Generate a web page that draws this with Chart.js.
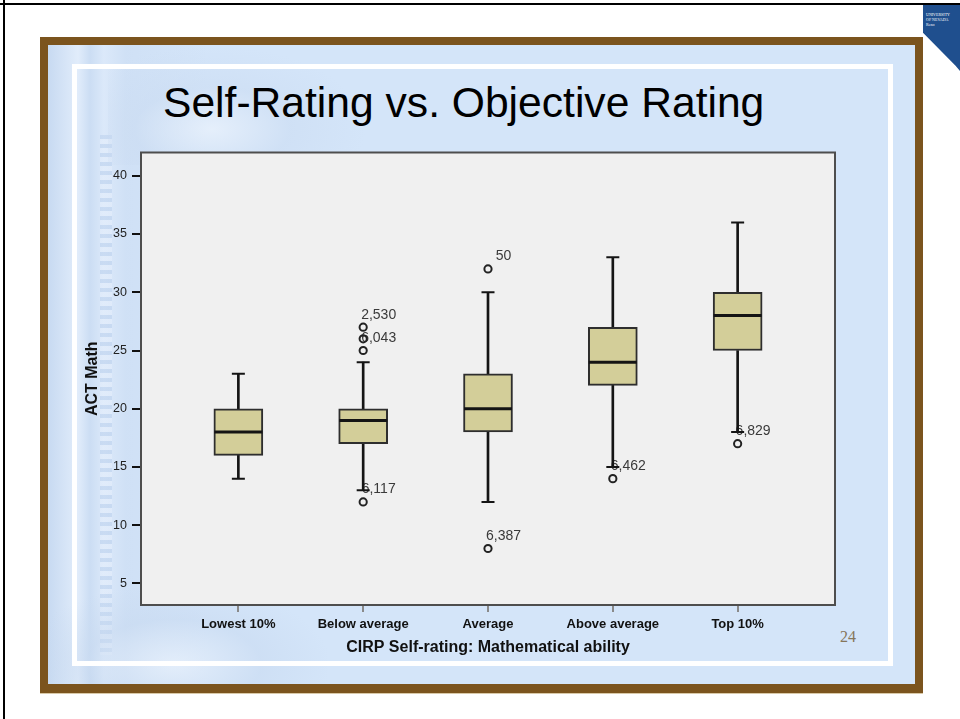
<!DOCTYPE html>
<html>
<head>
<meta charset="utf-8">
<title>Self-Rating vs. Objective Rating</title>
<script src="https://cdn.jsdelivr.net/npm/chart.js@4/dist/chart.umd.min.js"></script>
<style>
  html, body { margin: 0; padding: 0; }
  body { width: 960px; height: 719px; position: relative; overflow: hidden; background: #fff; font-family: "Liberation Sans", Arial, sans-serif; }
  .abs { position: absolute; }
  #edgeTop { left: 0; top: 3px; width: 960px; height: 2px; background: #000; }
  #edgeLeft { left: 3px; top: 0; width: 2px; height: 719px; background: #000; }
  #frame { left: 40px; top: 37px; width: 883px; height: 656px; background: #7b541e; box-shadow: 0 1px 0 #d9c9a8; }
  #panel { left: 48px; top: 45px; width: 867px; height: 639px; background: #d4e5f9; overflow: hidden; }
  #panel .deco { position: absolute; }
  #cols { left: 0; top: 0; width: 160px; height: 639px;
    background:
      linear-gradient(90deg, rgba(194,213,238,0.7) 0px, rgba(228,238,251,0.8) 30px, rgba(200,218,241,0.7) 42px, rgba(224,235,250,0.6) 56px, rgba(203,220,242,0.5) 78px, rgba(212,229,249,0) 160px); }
  #flute { left: 52px; top: 90px; width: 12px; height: 520px; opacity: 0.45;
    background: repeating-linear-gradient(180deg, rgba(180,203,234,1) 0 4px, rgba(232,240,252,1) 4px 9px); }
  #capital { left: 60px; top: 0; width: 260px; height: 120px;
    background: radial-gradient(ellipse at 40% 70%, rgba(236,243,252,0.7) 0, rgba(202,219,241,0.45) 35%, rgba(212,229,249,0) 70%); }
  #base { left: 0; top: 540px; width: 280px; height: 99px;
    background: radial-gradient(ellipse at 45% 80%, rgba(234,242,252,0.7) 0, rgba(198,216,239,0.45) 40%, rgba(212,229,249,0) 72%); }
  #inset { left: 72px; top: 64px; width: 821px; height: 602px; box-sizing: border-box; border: 5px solid #fff; }
  #title { left: 163px; top: 81px; font-size: 42.6px; line-height: 1; color: #000; white-space: nowrap; }
  #pageNo { left: 840px; top: 629px; font-family: "Liberation Serif", "Times New Roman", serif; font-size: 16px; line-height: 1; color: #86765a; }
  #chartBox { left: 80px; top: 140px; width: 780px; height: 530px; }
  #logo { left: 923px; top: 5px; width: 37px; height: 66px; background: #1f4f8e;
    clip-path: polygon(0 0, 100% 0, 100% 100%, 88% 92%, 0 42%); }
  #logoText { left: 926px; top: 12px; font-family: "Liberation Serif", serif; font-size: 4px; line-height: 5px; color: #fff; white-space: nowrap; }
</style>
</head>
<body>
<div id="frame" class="abs"></div>
<div id="panel" class="abs">
  <div id="cols" class="deco"></div>
  <div id="flute" class="deco"></div>
  <div id="capital" class="deco"></div>
  <div id="base" class="deco"></div>
</div>
<div id="inset" class="abs"></div>
<div id="edgeTop" class="abs"></div>
<div id="edgeLeft" class="abs"></div>
<div id="logo" class="abs"></div>
<div id="logoText" class="abs">UNIVERSITY<br>OF NEVADA<br>Reno</div>
<div id="title" class="abs">Self-Rating vs. Objective Rating</div>
<div id="pageNo" class="abs">24</div>
<div id="chartBox" class="abs"><canvas id="chart" width="780" height="530"></canvas></div>

<script>
// ACT Math score distribution by CIRP self-rating group
const categories = ['Lowest 10%', 'Below average', 'Average', 'Above average', 'Top 10%'];
const whiskerLow  = [14, 13, 12, 15, 18];
const quartile1   = [16, 17, 18, 22, 25];
const medians     = [18, 19, 20, 24, 28];
const quartile3   = [20, 20, 23, 27, 30];
const whiskerHigh = [23, 24, 30, 33, 36];

// Outliers: group index, score, case number
const outlierGroup = [1, 1, 1, 1, 2, 2, 3, 4];
const outlierScore = [27, 26, 25, 12, 32, 8, 14, 17];
const outlierCase  = ['2,530', '', '6,043', '6,117', '50', '6,387', '6,462', '6,829'];

const yTicks = [5, 10, 15, 20, 25, 30, 35, 40];

const FONT = "'Liberation Sans', Arial, sans-serif";
const INK = '#141414';

const plotFrame = {
  id: 'plotFrame',
  beforeDraw(chart) {
    const { ctx, chartArea: a } = chart;
    ctx.save();
    ctx.fillStyle = '#f0f0f0';
    ctx.fillRect(a.left, a.top, a.right - a.left, a.bottom - a.top);
    ctx.restore();
  },
  afterDraw(chart) {
    const { ctx, chartArea: a } = chart;
    ctx.save();
    ctx.strokeStyle = '#4e4e4e';
    ctx.lineWidth = 2;
    ctx.strokeRect(a.left, a.top, a.right - a.left, a.bottom - a.top);
    ctx.restore();
  }
};

// Case-number labels above and to the right of each outlier marker
const caseLabels = {
  id: 'caseLabels',
  beforeDatasetsDraw(chart) {
    const idx = chart.data.datasets.findIndex(d => d.label === 'outliers');
    const meta = chart.getDatasetMeta(idx);
    const { ctx } = chart;
    ctx.save();
    ctx.font = '14px ' + FONT;
    ctx.fillStyle = '#3a3a3a';
    ctx.textAlign = 'center';
    ctx.textBaseline = 'middle';
    meta.data.forEach((pt, i) => {
      if (outlierCase[i]) ctx.fillText(outlierCase[i], pt.x + 15.5, pt.y - 12.5);
    });
    ctx.restore();
  }
};

const pts = (vals) => vals.map((v, i) => ({ x: i, y: v }));
const spans = (lo, hi) => lo.map((v, i) => ({ x: i, y: [v, hi[i]] }));

new Chart(document.getElementById('chart'), {
  type: 'scatter',
  data: {
    datasets: [
      {
        label: 'outliers',
        data: outlierScore.map((v, i) => ({ x: outlierGroup[i], y: v })),
        pointStyle: 'circle', pointRadius: 3.6, borderWidth: 2,
        borderColor: '#222', backgroundColor: 'rgba(0,0,0,0)'
      },
      {
        label: 'median',
        data: pts(medians),
        pointStyle: 'line', pointRadius: 24, borderWidth: 3, borderColor: INK
      },
      {
        label: 'upper cap',
        data: pts(whiskerHigh),
        pointStyle: 'line', pointRadius: 6.5, borderWidth: 2, borderColor: INK
      },
      {
        label: 'lower cap',
        data: pts(whiskerLow),
        pointStyle: 'line', pointRadius: 6.5, borderWidth: 2, borderColor: INK
      },
      {
        type: 'bar', label: 'box',
        data: spans(quartile1, quartile3),
        grouped: false, barThickness: 49, borderSkipped: false,
        backgroundColor: '#d3ce99', borderColor: '#2e2e2e', borderWidth: 2
      },
      {
        type: 'bar', label: 'upper whisker',
        data: spans(quartile3, whiskerHigh),
        grouped: false, barThickness: 2, borderWidth: 0, backgroundColor: INK
      },
      {
        type: 'bar', label: 'lower whisker',
        data: spans(whiskerLow, quartile1),
        grouped: false, barThickness: 2, borderWidth: 0, backgroundColor: INK
      }
    ]
  },
  options: {
    responsive: false,
    animation: false,
    events: [],
    devicePixelRatio: 1,
    layout: { autoPadding: false, padding: { left: 0, top: 9, right: 25, bottom: 0 } },
    plugins: { legend: { display: false }, tooltip: { enabled: false } },
    scales: {
      x: {
        type: 'linear', min: -0.78, max: 4.78, offset: false,
        afterBuildTicks: s => { s.ticks = categories.map((c, i) => ({ value: i })); },
        afterFit: s => { s.height = 65; },
        border: { display: false },
        grid: { display: true, offset: false, drawOnChartArea: false, drawTicks: true, tickLength: 7, color: '#8a8a8a', lineWidth: 2 },
        ticks: {
          autoSkip: false, maxRotation: 0, padding: 4.5,
          color: '#111', font: { family: FONT, size: 13, weight: 'bold' },
          callback: v => categories[v]
        },
        title: {
          display: true, text: 'CIRP Self-rating: Mathematical ability',
          color: '#111', font: { family: FONT, size: 16, weight: 'bold' },
          padding: { top: 0, bottom: 12.4 }
        }
      },
      y: {
        type: 'linear', min: 3.15, max: 42,
        afterBuildTicks: s => { s.ticks = yTicks.map(v => ({ value: v })); },
        afterFit: s => { s.width = 61; },
        border: { display: false },
        grid: { display: true, drawOnChartArea: false, drawTicks: true, tickLength: 9, color: '#111', lineWidth: 2 },
        ticks: { padding: 5, color: '#222', font: { family: FONT, size: 12.5 } },
        title: {
          display: true, text: 'ACT Math',
          color: '#111', font: { family: FONT, size: 16, weight: 'bold' },
          padding: { top: 3.4, bottom: 0 }
        }
      }
    }
  },
  plugins: [plotFrame, caseLabels]
});
</script>
</body>
</html>
